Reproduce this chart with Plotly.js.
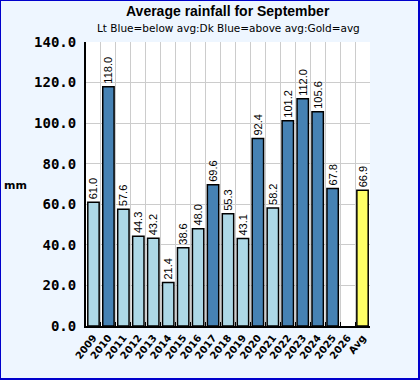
<!DOCTYPE html>
<html><head><meta charset="utf-8">
<script src="https://cdn.plot.ly/plotly-3.0.1.min.js"></script>
<style>
html,body{margin:0;padding:0;background:#fff;}
#wrap{width:420px;height:380px;box-sizing:border-box;border:1px solid #0000cc;border-right-width:2px;border-bottom-width:2px;background:#eef6ff;}
#chart{width:417px;height:377px;}
</style></head><body>
<div id="wrap"><div id="chart"></div></div>
<script>
const categories = ["2009","2010","2011","2012","2013","2014","2015","2016","2017","2018","2019","2020","2021","2022","2023","2024","2025","2026","Avg"];
const values = [61.0,118.0,57.6,44.3,43.2,21.4,38.6,48.0,69.6,55.3,43.1,92.4,58.2,101.2,112.0,105.6,67.8,null,66.9];
const avgValue = 66.9;
const yTicks = [0,20,40,60,80,100,120,140];

const colors = values.map((v,i)=> categories[i]==="Avg" ? "#ffff66" : (v!==null && v>avgValue ? "#4682b4" : "#add8e6"));
const texts = values.map(v => v===null ? "" : v.toFixed(1));

const trace = {
  type:"bar", x:categories, y:values,
  marker:{color:colors, line:{color:"#000", width:1.5}},
  width:0.76,
  text:texts, textposition:"outside", textangle:-90, constraintext:"none",
  textfont:{family:"Liberation Sans, Arial", size:11, color:"#000"},
  cliponaxis:false, hoverinfo:"none"
};

const layout = {
  width:417, height:377,
  margin:{l:85, r:48, t:41, b:52},
  paper_bgcolor:"rgba(0,0,0,0)", plot_bgcolor:"#fff",
  showlegend:false,
  xaxis:{type:"category", tickson:"boundaries", showgrid:true, gridcolor:"#cccccc", gridwidth:1,
    ticks:"inside", ticklen:4, tickcolor:"#000", tickangle:-52,
    tickfont:{family:"DejaVu Sans, sans-serif", size:10, color:"#000", weight:"bold"},
    showline:true, linecolor:"#000", linewidth:2, zeroline:false, fixedrange:true},
  yaxis:{range:[0,140], tickvals:yTicks, ticktext:yTicks.map(v=>v.toFixed(1)),
    showgrid:true, gridcolor:"#cccccc", gridwidth:1, ticklabelstandoff:5,
    tickfont:{family:"DejaVu Sans Mono, monospace", size:14, color:"#000", weight:"bold"},
    showline:true, linecolor:"#000", linewidth:2, zeroline:false, ticks:"", fixedrange:true},
  annotations:[
    {text:"Average rainfall for September", xref:"paper", yref:"paper", x:0.5, y:1, yshift:31, xanchor:"center", yanchor:"middle", showarrow:false,
     font:{family:"Liberation Sans, Arial", size:14, color:"#000", weight:"bold"}},
    {text:"Lt Blue=below avg:Dk Blue=above avg:Gold=avg", xref:"paper", yref:"paper", x:0.5, y:1, yshift:14, xanchor:"center", yanchor:"middle", showarrow:false,
     font:{family:"DejaVu Sans, sans-serif", size:10.5, color:"#000"}},
    {text:"mm", xref:"paper", yref:"paper", x:0, xshift:-71, y:0.5, yshift:-1, xanchor:"center", yanchor:"middle", showarrow:false,
     font:{family:"DejaVu Sans, sans-serif", size:11, color:"#000", weight:"bold"}}
  ]
};
Plotly.newPlot("chart",[trace],layout,{displayModeBar:false, staticPlot:true});
</script></body></html>
